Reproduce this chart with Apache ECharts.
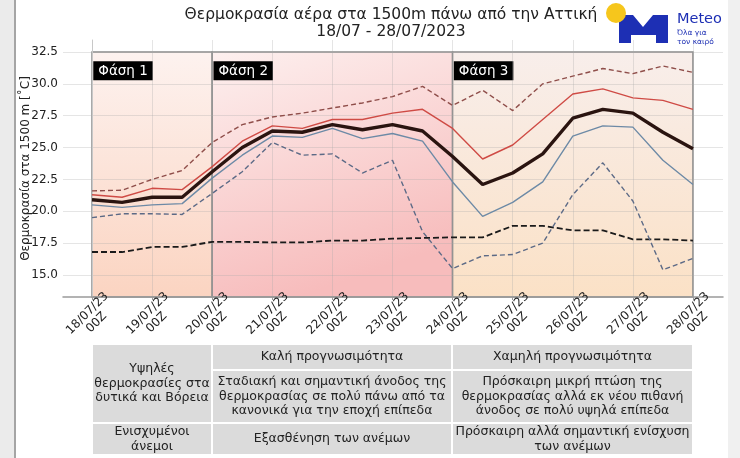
<!DOCTYPE html>
<html lang="el">
<head>
<meta charset="UTF-8" />
<title>Θερμοκρασία 1500m Αττική</title>
<script src="https://cdn.jsdelivr.net/npm/echarts@6.0.0/dist/echarts.min.js"></script>
<style>
  html, body { margin: 0; padding: 0; background: #fff; }
  #main { width: 740px; height: 458px; }
</style>
</head>
<body>
<div id="main"></div>
<script>
// x = days after 18/07 00Z, one value every 12 h
const steps = [0, 0.5, 1, 1.5, 2, 2.5, 3, 3.5, 4, 4.5, 5, 5.5, 6, 6.5, 7, 7.5, 8, 8.5, 9, 9.5, 10];
const tickDays = [0, 1, 2, 3, 4, 5, 6, 7, 8, 9, 10];
const dayLabels = ['18/07/23\n00Z', '19/07/23\n00Z', '20/07/23\n00Z', '21/07/23\n00Z', '22/07/23\n00Z',
  '23/07/23\n00Z', '24/07/23\n00Z', '25/07/23\n00Z', '26/07/23\n00Z', '27/07/23\n00Z', '28/07/23\n00Z'];
const yTicks = [15, 17.5, 20, 22.5, 25, 27.5, 30, 32.5];

// ensemble mean, inner spread (solid), outer spread (dashed), climatology
const meanT  = [20.9, 20.7, 21.1, 21.1, 23.1, 25.0, 26.3, 26.2, 26.8, 26.4, 26.8, 26.3, 24.3, 22.1, 23.0, 24.5, 27.3, 28.0, 27.7, 26.2, 24.9];
const upperT = [21.3, 21.1, 21.8, 21.7, 23.5, 25.5, 26.7, 26.5, 27.2, 27.2, 27.7, 28.0, 26.5, 24.1, 25.2, 27.2, 29.2, 29.6, 28.9, 28.7, 28.0];
const lowerT = [20.5, 20.3, 20.5, 20.6, 22.6, 24.4, 25.9, 25.8, 26.5, 25.7, 26.1, 25.5, 22.3, 19.6, 20.7, 22.3, 25.9, 26.7, 26.6, 24.0, 22.1];
const maxT   = [21.6, 21.65, 22.5, 23.2, 25.4, 26.8, 27.4, 27.7, 28.1, 28.5, 29.0, 29.8, 28.3, 29.5, 27.9, 30.0, 30.6, 31.2, 30.8, 31.4, 30.9];
const minT   = [19.5, 19.8, 19.8, 19.75, 21.4, 23.1, 25.4, 24.4, 24.5, 23.0, 24.0, 18.4, 15.5, 16.5, 16.6, 17.5, 21.3, 23.8, 20.8, 15.4, 16.3];
const climT  = [16.8, 16.8, 17.2, 17.2, 17.6, 17.6, 17.55, 17.55, 17.7, 17.7, 17.85, 17.9, 17.95, 17.95, 18.85, 18.85, 18.5, 18.5, 17.8, 17.8, 17.7];

const phaseNames = ['Φάση 1', 'Φάση 2', 'Φάση 3'];
const phaseStart = [0, 2, 6];
const phaseEnd = [2, 6, 10];
const phaseTop = 32.5;

const cellText = [
  'Υψηλές\nθερμοκρασίες στα\nδυτικά και Βόρεια',
  'Καλή προγνωσιμότητα',
  'Χαμηλή προγνωσιμότητα',
  'Σταδιακή και σημαντική άνοδος της\nθερμοκρασίας σε πολύ πάνω από τα\nκανονικά για την εποχή επίπεδα',
  'Πρόσκαιρη μικρή πτώση της\nθερμοκρασίας αλλά εκ νέου πιθανή\nάνοδος σε πολύ υψηλά επίπεδα',
  'Ενισχυμένοι\nάνεμοι',
  'Εξασθένηση των ανέμων',
  'Πρόσκαιρη αλλά σημαντική ενίσχυση\nτων ανέμων'
];

const FONT = 'DejaVu Sans';
const yMin = 13.27, yMax = 33.44;

const pairs = (arr) => arr.map((v, i) => [steps[i], v]);
const diff = (a, b) => a.map((v, i) => [steps[i], +(v - b[i]).toFixed(2)]);

var myChart = echarts.init(document.getElementById('main'));

// phase backgrounds
const phaseGrad = [
  new echarts.graphic.LinearGradient(0, 0, 0, 1, [
    { offset: 0, color: '#fdf2ef' }, { offset: 1, color: '#fbd4c1' }]),
  new echarts.graphic.LinearGradient(0, 0, 0.35, 1, [
    { offset: 0, color: '#fdf0ef' }, { offset: 1, color: '#f7bcbc' }]),
  new echarts.graphic.LinearGradient(0, 0, 0, 1, [
    { offset: 0, color: '#f8eeeb' }, { offset: 1, color: '#fbe1c6' }])
];
const phaseAreas = phaseNames.map((n, i) => [
  { name: n, xAxis: phaseStart[i], yAxis: yMin, itemStyle: { color: phaseGrad[i] } },
  { xAxis: phaseEnd[i], yAxis: phaseTop }
]);

// table layout
const tCols = [92, 212, 452, 693];
const tRows = [344, 370, 423, 455];
const cellPos = [[0, 0, 2], [1, 0, 1], [2, 0, 1], [1, 1, 2], [2, 1, 2], [0, 2, 3], [1, 2, 3], [2, 2, 3]];
const tableGraphic = [];
cellPos.forEach((p, i) => {
  const x0 = tCols[p[0]], x1 = tCols[p[0] + 1];
  const y0 = tRows[p[1]], y1 = tRows[p[2]];
  tableGraphic.push({
    type: 'rect', shape: { x: x0 + 1, y: y0 + 1, width: x1 - x0 - 2, height: y1 - y0 - 2 },
    style: { fill: '#dbdbdb' }, z: 10
  });
  tableGraphic.push({
    type: 'text', x: (x0 + x1) / 2, y: (y0 + y1) / 2, z: 11,
    style: { text: cellText[i], align: 'center', verticalAlign: 'middle',
      font: '12.5px "' + FONT + '"', lineHeight: 14.5, fill: '#222' }
  });
});

const lineBase = { type: 'line', symbol: 'none', silent: true, z: 3 };

var option = {
  animation: false,
  backgroundColor: '#fff',
  grid: { left: 63, right: 17, top: 40, bottom: 161 },
  xAxis: {
    type: 'value', min: -0.483, max: 10.5, z: 1.5,
    axisLine: { lineStyle: { color: '#9a9a9a', width: 1.5 } },
    axisTick: { show: true, length: 3, customValues: tickDays, lineStyle: { color: '#9a9a9a' } },
    splitLine: { show: true, lineStyle: { color: 'rgba(170,170,170,0.3)' } },
    axisLabel: {
      customValues: tickDays, rotate: 45, margin: 21, align: 'center', verticalAlign: 'middle',
      fontFamily: FONT, fontSize: 12, lineHeight: 13, color: '#222',
      formatter: (v) => dayLabels[tickDays.indexOf(v)] || ''
    }
  },
  yAxis: {
    type: 'value', min: yMin, max: yMax, z: 1.5,
    name: 'Θερμοκρασία στα 1500 m [˚C]', nameLocation: 'middle', nameGap: 31, nameMoveOverlap: false,
    nameTextStyle: { fontFamily: FONT, fontSize: 12, color: '#222' },
    axisLine: { show: true, lineStyle: { color: '#c8c8c8' } },
    axisTick: { show: false, customValues: yTicks },
    splitLine: { show: true, lineStyle: { color: 'rgba(170,170,170,0.3)' } },
    axisLabel: {
      customValues: yTicks, margin: 5, fontFamily: FONT, fontSize: 12, color: '#222',
      formatter: (v) => v.toFixed(1)
    }
  },
  series: [
    { ...lineBase, name: 'minBase', data: pairs(minT), stack: 'outer', lineStyle: { width: 0 }, z: 2 },
    { ...lineBase, name: 'outerBand', data: diff(maxT, minT), stack: 'outer', lineStyle: { width: 0 }, z: 2,
      areaStyle: { color: 'rgba(140,90,75,0.14)' } },
    { ...lineBase, name: 'innerBase', data: pairs(lowerT), stack: 'inner', lineStyle: { width: 0 }, z: 2 },
    { ...lineBase, name: 'innerBand', data: diff(upperT, lowerT), stack: 'inner', lineStyle: { width: 0 }, z: 2,
      areaStyle: { color: 'rgba(115,75,65,0.18)' } },
    {
      ...lineBase, name: 'Κλιματολογία', data: pairs(climT),
      lineStyle: { color: '#1a1a1a', width: 1.8, type: [6, 3] },
      markArea: {
        silent: true,
        itemStyle: { borderColor: '#8a8a8a', borderWidth: 1.5 },
        label: {
          show: true, position: 'insideTopLeft', distance: 0, offset: [2, 10],
          color: '#fff', backgroundColor: '#000', padding: [3, 5, 2, 5],
          fontFamily: FONT, fontSize: 13.5
        },
        data: phaseAreas
      }
    },
    { ...lineBase, name: 'max', data: pairs(maxT), lineStyle: { color: '#8f4e4a', width: 1.4, type: [5, 3] } },
    { ...lineBase, name: 'min', data: pairs(minT), lineStyle: { color: '#5c6a86', width: 1.4, type: [5, 3] } },
    { ...lineBase, name: 'upper', data: pairs(upperT), lineStyle: { color: '#cf4b45', width: 1.4 } },
    { ...lineBase, name: 'lower', data: pairs(lowerT), lineStyle: { color: '#6d8aa6', width: 1.4 } },
    { ...lineBase, name: 'mean', data: pairs(meanT), lineStyle: { color: '#2a1410', width: 3.4 }, z: 4 }
  ],
  graphic: [
    { type: 'rect', shape: { x: 0, y: 0, width: 14, height: 458 }, style: { fill: '#ebebeb' }, z: 20 },
    { type: 'line', shape: { x1: 15, y1: 0, x2: 15, y2: 458 }, style: { stroke: '#a5a5a5', lineWidth: 2 }, z: 20 },
    { type: 'rect', shape: { x: 728, y: 0, width: 12, height: 458 }, style: { fill: '#f0f0f0' }, z: 20 },
    {
      type: 'text', x: 391, y: 6, z: 20,
      style: { text: 'Θερμοκρασία αέρα στα 1500m πάνω από την Αττική\n18/07 - 28/07/2023',
        align: 'center', verticalAlign: 'top', font: '15.5px "' + FONT + '"', lineHeight: 17, fill: '#222' }
    },
    {
      type: 'polygon', z: 20,
      shape: { points: [[619, 15], [633, 15], [643, 27], [653, 15], [668, 15], [668, 43], [656, 43],
        [656, 35], [631, 35], [631, 43], [619, 43]] },
      style: { fill: '#1d2fb4' }
    },
    { type: 'circle', z: 21, shape: { cx: 616, cy: 13, r: 10 }, style: { fill: '#f6c61c' } },
    { type: 'text', x: 677, y: 12, z: 20, style: { text: 'Meteo', font: '14.5px "' + FONT + '"', fill: '#1d2fb4' } },
    { type: 'text', x: 677, y: 29, z: 20, style: { text: 'Όλα για\nτον καιρό', font: '7.5px "' + FONT + '"', lineHeight: 8.5, fill: '#1d2fb4' } },
    ...tableGraphic
  ]
};

myChart.setOption(option);
</script>
</body>
</html>
